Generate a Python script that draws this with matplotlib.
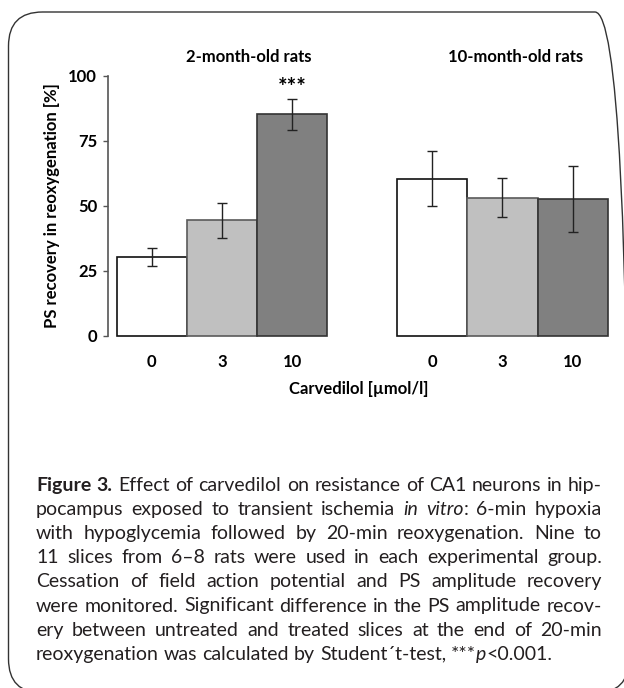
import re
import numpy as np
import matplotlib
matplotlib.use("Agg")
import matplotlib.pyplot as plt
from matplotlib.patches import FancyBboxPatch
from matplotlib.font_manager import FontProperties

plt.rcParams['font.family'] = ['Lato', 'DejaVu Sans']

# data
groups = ['2-month-old rats', '10-month-old rats']
doses = ['0', '3', '10']
young_mean = [30.3, 44.4, 85.2]
young_err = [3.4, 6.7, 5.9]
old_mean = [60.4, 53.0, 52.6]
old_err = [10.7, 7.5, 12.7]
yticks = [0, 25, 50, 75, 100]

caption_lines = [
    "<b>Figure</b> <b>3.</b> Effect of carvedilol on resistance of CA1 neurons in hip-",
    "pocampus exposed to transient ischemia <i>in</i> <i>vitro</i>: 6-min hypoxia",
    "with hypoglycemia followed by 20-min reoxygenation. Nine to",
    "11 slices from 6\u20138 rats were used in each experimental group.",
    "Cessation of field action potential and PS amplitude recovery",
    "were monitored. Significant difference in the PS amplitude recov-",
    "ery between untreated and treated slices at the end of 20-min",
    "reoxygenation was calculated by Student\u00b4t-test, ***<i>p</i><0.001.",
]

W, H = 624, 688
fig = plt.figure(figsize=(W / 100, H / 100), dpi=100)


def fx(x):
    return x / W


def fy(y):
    return 1 - y / H


# rounded frame around the whole figure
frame = FancyBboxPatch((8.5 / 100, (H - 693) / 100), (629 - 8.5) / 100, (693 - 12) / 100,
                       boxstyle='round,pad=0,rounding_size=0.34',
                       transform=fig.dpi_scale_trans, fill=False,
                       edgecolor='#333333', linewidth=1.0)
fig.add_artist(frame)

# chart
ax_left, ax_right, y0, y100 = 107.7, 620, 335.7, 75.7
ax = fig.add_axes([fx(ax_left), fy(y0), (ax_right - ax_left) / W, (y0 - y100) / H])
ax.patch.set_alpha(0)

positions = [0, 1, 2, 4, 5, 6]
means = young_mean + old_mean
errs = young_err + old_err
fills = ['#ffffff', '#c0c0c0', '#808080'] * 2
edges = ['#111111', '#5a5a5a', '#333333'] * 2

ax.bar(positions, means, width=1.0, color=fills, edgecolor=edges,
       linewidth=1.2, clip_on=False, zorder=2)
ax.errorbar(positions, means, yerr=errs, fmt='none', ecolor='#222222',
            elinewidth=1.0, capsize=3.5, capthick=1.0, zorder=3, clip_on=False)

ppu = 70.14
xmin = -0.5 - 9 / ppu
ax.set_xlim(xmin, xmin + (ax_right - ax_left) / ppu)
ax.set_ylim(0, 100)

for s in ['top', 'right', 'bottom']:
    ax.spines[s].set_visible(False)
ax.spines['left'].set_color('#555555')
ax.spines['left'].set_linewidth(1.2)

fs = 12
ax.set_yticks(yticks)
ax.set_xticks(positions, doses * 2)
ax.tick_params(axis='y', direction='out', length=3.6, width=1.0, color='#555555',
               pad=4, labelsize=fs)
ax.tick_params(axis='x', length=0, pad=13, labelsize=fs)
for lab in ax.get_xticklabels() + ax.get_yticklabels():
    lab.set_fontweight('bold')

ax.set_ylabel('PS recovery in reoxygenation [%]', fontsize=fs, fontweight='bold')
ax.yaxis.set_label_coords((60 - ax_left) / (ax_right - ax_left), 0.5)
ax.set_xlabel('Carvedilol [\u00b5mol/l]', fontsize=fs, fontweight='bold')
ax.xaxis.set_label_coords((359 - ax_left) / (ax_right - ax_left), (y0 - 381) / (y0 - y100))

ax.text(2, 93, '***', ha='center', va='baseline', fontsize=16, fontweight='bold')

fig.text(fx(249), fy(57), groups[0], ha='center', va='center', fontsize=fs, fontweight='bold')
fig.text(fx(516), fy(57), groups[1], ha='center', va='center', fontsize=fs, fontweight='bold')

# justified caption
renderer = fig.canvas.get_renderer()
cap_left, cap_right = 36, 602
cap_w = cap_right - cap_left


def parse(word):
    out = []
    for piece in re.split(r'(<[bi]>.*?</[bi]>)', word):
        if not piece:
            continue
        m = re.match(r'<([bi])>(.*?)</[bi]>', piece)
        if m:
            out.append((m.group(2), m.group(1)))
        else:
            out.append((piece, 'n'))
    return out


def props(size):
    return {
        'n': FontProperties(family=['Lato', 'DejaVu Sans'], size=size),
        'b': FontProperties(family=['Lato', 'DejaVu Sans'], size=size, weight='bold'),
        'i': FontProperties(family=['Lato', 'DejaVu Sans'], size=size, style='italic'),
    }


def tw(s, prop):
    return renderer.get_text_width_height_descent(s, prop, ismath=False)[0]


words = [[parse(w) for w in line.split(' ')] for line in caption_lines]

for size in np.arange(14.0, 9.0, -0.1):
    fp = props(size)
    space = tw('a a', fp['n']) - tw('aa', fp['n'])
    ok = True
    for line in words[:-1]:
        total = sum(tw(t, fp[st]) for w in line for t, st in w)
        if total + (len(line) - 1) * 0.8 * space > cap_w:
            ok = False
            break
    if ok:
        break

base0, step = 491, 24.1
for i, line in enumerate(words):
    widths = [sum(tw(t, fp[st]) for t, st in w) for w in line]
    if i < len(words) - 1:
        gap = (cap_w - sum(widths)) / (len(line) - 1)
    else:
        gap = space
    x = cap_left
    yb = base0 + i * step
    for w, wd in zip(line, widths):
        xx = x
        for t, st in w:
            fig.text(fx(xx), fy(yb), t, fontproperties=fp[st], ha='left',
                     va='baseline', color='#231f20')
            xx += tw(t, fp[st])
        x += wd + gap

fig.savefig('out.png', dpi=100)
